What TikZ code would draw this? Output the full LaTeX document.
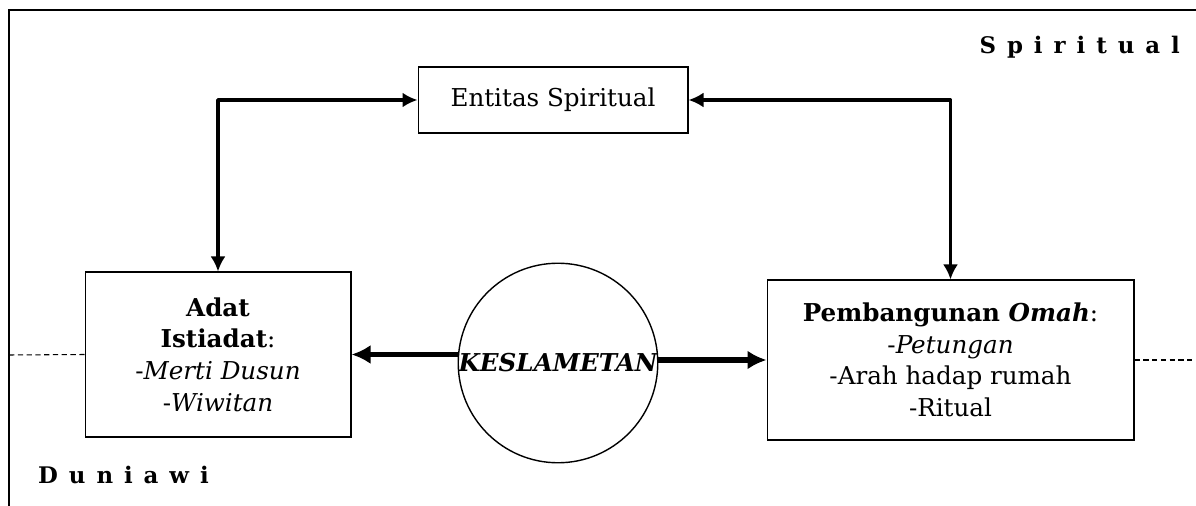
\documentclass[tikz,border=0pt]{standalone}
\usepackage{fontspec}
\setmainfont{DejaVu Serif}
\usetikzlibrary{arrows.meta, calc, positioning}

\tikzset{
  box/.style={draw, semithick, align=center, inner sep=0.3em, font=\fontsize{14pt}{18pt}\selectfont},
  link/.style={line width=2.2pt, line join=round, {Latex[length=3mm,width=3mm]}-{Latex[length=3mm,width=3mm]}},
  push/.style={line width=3.2pt, -{Latex[length=3.8mm,width=3.8mm]}},
  realm/.style={font=\fontsize{13pt}{15pt}\selectfont\bfseries\addfontfeature{LetterSpace=48}},
  border/.style={semithick, dash pattern=on 3pt off 2pt}
}

\begin{document}
\begin{tikzpicture}[x=0.02cm, y=-0.02cm]
  \useasboundingbox (0,0) rectangle (1196,506);
  \draw[semithick] (1196,10) -| (9,506);

  \node[box, minimum width=5.4cm, minimum height=1.32cm] (entitas) at (553,100) {Entitas Spiritual};
  \node[box, minimum width=5.32cm, minimum height=3.3cm] (adat) at (218,354.5)
    {\textbf{Adat}\\\textbf{Istiadat}:\\-\textit{Merti Dusun}\\-\textit{Wiwitan}};
  \node[box, minimum width=7.34cm, minimum height=3.2cm] (omah) at (950.5,360)
    {\textbf{Pembangunan \textit{Omah}}:\\-\textit{Petungan}\\-Arah hadap rumah\\-Ritual};
  \node[draw, circle, thick, minimum size=3.8cm, inner sep=0pt,
        font=\fontsize{14pt}{18pt}\selectfont\bfseries\itshape] (slamet) at (558,363) {KESLAMETAN};

  \node[realm, anchor=east] (spirit) at (1186,47) {Spiritual};
  \node[realm, anchor=west] (dunia) at (32,475) {Duniawi};

  % links to the spiritual entity
  \draw[link] (adat.north) |- (entitas.west);
  \draw[link] (entitas.east) -| (omah.north);

  % keslametan outwards
  \draw[push] (slamet.west |- adat.east) -- (adat.east);
  \draw[push] (slamet.east |- omah.west) -- (omah.west);

  % border between the two realms
  \coordinate (lefty) at (9,355);
  \coordinate (righty) at (1196,360);
  \draw[border] (lefty) -- (adat.west);
  \draw[border] (omah.east) -- (righty);
\end{tikzpicture}
\end{document}
